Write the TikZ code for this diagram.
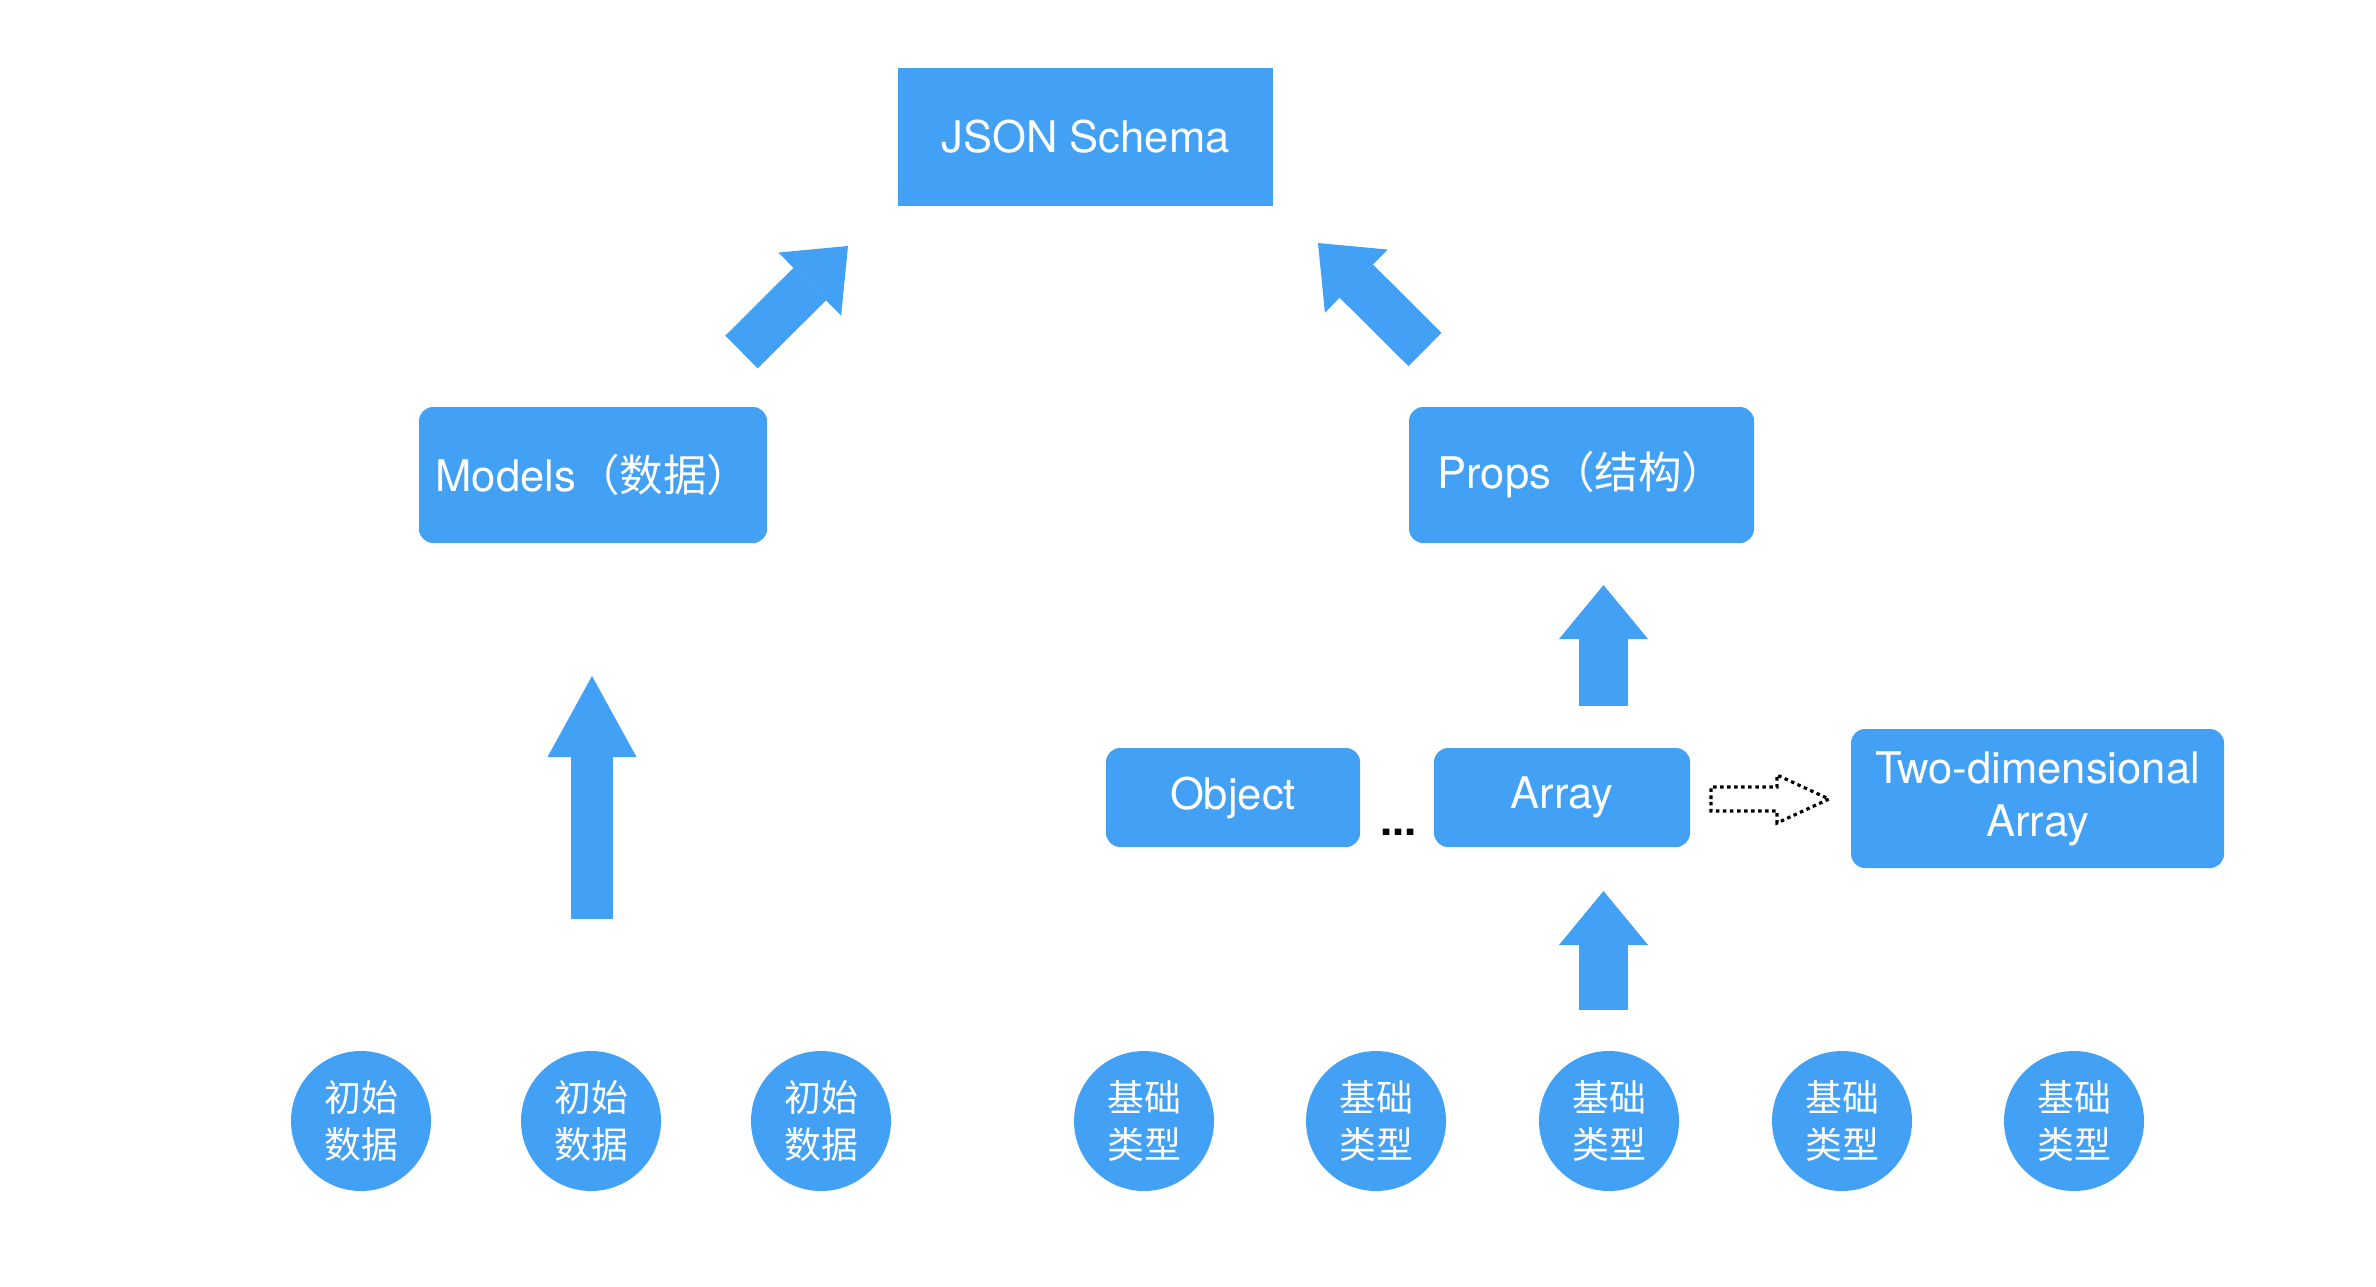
\documentclass[tikz,border=0pt]{standalone}
\usepackage{fontspec}
\setmainfont{TeX Gyre Heros}
\newfontfamily\cjkfont{Noto Sans CJK SC}
\usepackage{tikz}
\usetikzlibrary{arrows.meta}
\definecolor{schemablue}{RGB}{66,160,245}

\begin{document}
\begin{tikzpicture}[
  box/.style={fill=schemablue, text=white, rounded corners=4pt, minimum height=1.36cm,
              minimum width=3.46cm, inner sep=0pt, text centered, align=center,
              font=\fontsize{12.4}{15}\selectfont},
  leaf/.style={circle, fill=schemablue, text=white, minimum size=1.4cm, inner sep=0pt,
              align=center, font=\cjkfont\fontsize{10.5}{13.6}\selectfont},
  fat/.style 2 args={draw=schemablue, line width=#1,
              -{Triangle[length=#2, width=0.89cm, line width=0pt]}},
  hollow/.style={draw=black, line width=0.9pt, dash pattern=on 1pt off 1pt},
]
\useasboundingbox (0,0) rectangle (23.76,12.86);

% Schema
\node[box, sharp corners, minimum width=3.75cm, minimum height=1.38cm] (json) at (10.855, 11.49) {JSON Schema};

% Models / Props
\node[box, minimum width=3.48cm] (models) at (5.93, 8.11) {Models{\cjkfont （数据）}};
\node[box, minimum width=3.45cm] (props) at (15.815, 8.11) {Props{\cjkfont （结构）}};

% Types
\node[box, minimum width=2.54cm, minimum height=0.99cm] (object) at (12.33, 4.885) {Object};
\node[box, minimum width=2.56cm, minimum height=0.99cm] (array) at (15.62, 4.885) {Array};
\node[box, minimum width=3.73cm, minimum height=1.39cm] (twod) at (20.375, 4.875) {Two-dimensional\\Array};
\node[anchor=base, inner sep=0pt, font=\bfseries\fontsize{12.4}{15}\selectfont] (etc) at (13.985, 4.51) {...};

% Leaves
\foreach \x [count=\i] in {3.61, 5.91, 8.21}
  \node[leaf] (seed\i) at (\x, 1.65) {初始\\数据};
\foreach \x [count=\i] in {11.44, 13.76, 16.09, 18.42, 20.74}
  \node[leaf] (base\i) at (\x, 1.65) {基础\\类型};

% Arrow ends
\coordinate (seedsTop) at (5.92, 3.67);
\coordinate (modelsLow) at (5.92, 6.10);
\coordinate (basesTop) at (16.035, 2.76);
\coordinate (arrayLow) at (16.035, 3.95);
\coordinate (arrayTop) at (16.035, 5.80);
\coordinate (propsLow) at (16.035, 7.01);
\coordinate (modelsTop) at (7.415, 9.34);
\coordinate (jsonLeft) at (8.48, 10.40);
\coordinate (propsTop) at (14.25, 9.365);
\coordinate (jsonRight) at (13.18, 10.43);
\coordinate (extend) at (17.11, 4.87);

% Flèches
\draw[fat={0.42cm}{0.81cm}] (seedsTop) -- (modelsLow);
\draw[fat={0.49cm}{0.54cm}] (basesTop) -- (arrayLow);
\draw[fat={0.49cm}{0.54cm}] (arrayTop) -- (propsLow);
\draw[fat={0.46cm}{0.54cm}] (modelsTop) -- (jsonLeft);
\draw[fat={0.47cm}{0.54cm}] (propsTop) -- (jsonRight);

\draw[hollow] (extend) -- ++(0,0.12) -- ++(0.66,0) -- ++(0,0.12) -- ++(0.52,-0.24)
  -- ++(-0.52,-0.24) -- ++(0,0.12) -- ++(-0.66,0) -- cycle;

\end{tikzpicture}
\end{document}
